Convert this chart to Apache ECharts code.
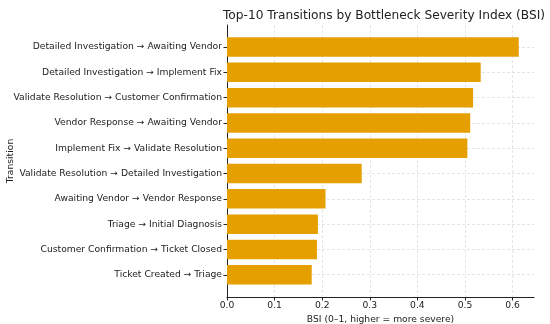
<!DOCTYPE html>
<html><head><meta charset="utf-8">
<script src="https://cdn.jsdelivr.net/npm/echarts@6/dist/echarts.min.js"></script>
<style>html,body{margin:0;padding:0;background:#fff}#c{width:550px;height:324px}</style>
</head><body><div id="c"></div>
<script>
const categories = [
  "Detailed Investigation \u2192 Awaiting Vendor",
  "Detailed Investigation \u2192 Implement Fix",
  "Validate Resolution \u2192 Customer Confirmation",
  "Vendor Response \u2192 Awaiting Vendor",
  "Implement Fix \u2192 Validate Resolution",
  "Validate Resolution \u2192 Detailed Investigation",
  "Awaiting Vendor \u2192 Vendor Response",
  "Triage \u2192 Initial Diagnosis",
  "Customer Confirmation \u2192 Ticket Closed",
  "Ticket Created \u2192 Triage"
];
const bsiValues = [0.613, 0.533, 0.517, 0.511, 0.505, 0.283, 0.207, 0.191, 0.189, 0.178];
const xTicks = [0.0, 0.1, 0.2, 0.3, 0.4, 0.5, 0.6];
const xMax = 0.645;

const font = "DejaVu Sans";
const txt = '#222';
const gridLine = {color: '#dedede', type: [3, 2], width: 0.8};
const chart = echarts.init(document.getElementById('c'), null, {renderer: 'canvas'});
chart.setOption({
  animation: false,
  title: {
    text: "Top-10 Transitions by Bottleneck Severity Index (BSI)",
    left: 379, top: 5, textAlign: 'center',
    textStyle: {fontFamily: font, fontSize: 12.2, fontWeight: 'normal', color: txt}
  },
  grid: [
    {left: 227, right: 16, top: 25, bottom: 27, containLabel: false, outerBoundsMode: 'none'},
    {left: 227, right: 16, top: 34.4, bottom: 36.6, containLabel: false, outerBoundsMode: 'none'}
  ],
  xAxis: [{
    gridIndex: 0, type: 'value', min: 0, max: xMax, interval: 0.1,
    name: "BSI (0\u20131, higher = more severe)", nameLocation: 'middle', nameGap: 15,
    nameTextStyle: {fontFamily: font, fontSize: 9.2, color: txt},
    axisLine: {show: true, lineStyle: {color: txt, width: 1}},
    axisTick: {show: true, length: 3.5, lineStyle: {color: txt}},
    axisLabel: {fontFamily: font, fontSize: 9.2, color: txt, margin: 4, showMaxLabel: false,
      formatter: v => xTicks.some(t => Math.abs(t - v) < 1e-9) ? v.toFixed(1) : ''},
    splitLine: {show: true, showMaxLine: false, lineStyle: gridLine}
  }, {
    gridIndex: 1, type: 'value', min: 0, max: xMax, show: false
  }],
  yAxis: [{
    gridIndex: 0, type: 'value', min: 0, max: 1,
    name: "Transition", nameLocation: 'middle', nameGap: 212, nameRotate: 90,
    nameTextStyle: {fontFamily: font, fontSize: 9.2, color: txt},
    axisLine: {show: true, lineStyle: {color: txt, width: 1}},
    axisTick: {show: false}, axisLabel: {show: false}, splitLine: {show: false}
  }, {
    gridIndex: 1, type: 'category', data: categories, inverse: true,
    axisLine: {show: false},
    axisTick: {show: true, alignWithLabel: true, length: 3.5, lineStyle: {color: txt}},
    axisLabel: {fontFamily: font, fontSize: 9.2, color: txt, margin: 5},
    splitLine: {show: true, alignWithLabel: true, lineStyle: gridLine}
  }],
  series: [{
    type: 'bar', xAxisIndex: 1, yAxisIndex: 1, data: bsiValues, barWidth: '77%',
    itemStyle: {color: '#E69F00'}
  }]
});
</script></body></html>
